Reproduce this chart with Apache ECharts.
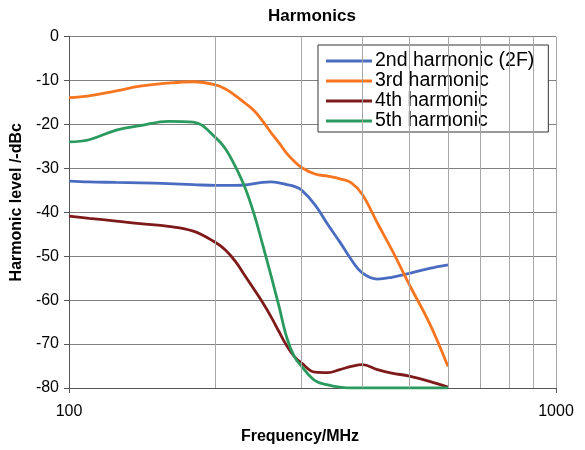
<!DOCTYPE html>
<html>
<head>
<meta charset="utf-8">
<script src="https://cdn.jsdelivr.net/npm/echarts@6/dist/echarts.min.js"></script>
<style>
html,body{margin:0;padding:0;background:#fff;}
#chart{width:585px;height:450px;}
</style>
</head>
<body>
<div id="chart"></div>
<script>
const freqs = [100, 110, 125, 140, 160, 180, 200, 210, 220, 230, 240, 250, 260, 270, 280, 290, 300, 320, 340, 360, 380, 400, 430, 460, 500, 550, 600];
const h2 = [-32.9, -33.1, -33.2, -33.3, -33.5, -33.7, -33.9, -33.9, -33.9, -33.8, -33.5, -33.2, -33.1, -33.3, -33.7, -34.1, -34.9, -38.3, -42.8, -46.8, -50.8, -53.8, -55.2, -54.8, -53.9, -52.8, -52.0];
const h3 = [-13.9, -13.5, -12.4, -11.3, -10.6, -10.3, -11.0, -12.0, -13.5, -15.2, -16.9, -19.3, -21.9, -24.2, -26.6, -28.4, -29.8, -31.3, -31.8, -32.4, -33.3, -35.9, -42.5, -48.5, -56.5, -65.3, -75.1];
const h4 = [-40.9, -41.4, -42.0, -42.6, -43.2, -44.3, -46.9, -48.7, -51.3, -54.5, -57.6, -60.6, -63.8, -67.2, -70.4, -72.8, -74.3, -76.4, -76.5, -75.8, -75.1, -74.7, -75.8, -76.6, -77.3, -78.5, -79.8];
const h5 = [-24.0, -23.5, -21.3, -20.3, -19.3, -19.5, -23.0, -25.7, -29.8, -34.5, -40.5, -47.5, -54.5, -61.5, -68.5, -72.8, -75.0, -78.3, -79.3, -79.8, -80, -80, -80, -80, -80, -80, -80];
const seriesNames = ['2nd harmonic (2F)', '3rd harmonic', '4th harmonic', '5th harmonic'];
const seriesColors = ['#4A6CC0', '#F7751F', '#7F1A1A', '#2A9A5E'];
const minorFreqs = [200, 300, 400, 500, 600, 700, 800, 900];

const FONT = '"Liberation Sans", Arial, sans-serif';
const seriesData = [h2, h3, h4, h5];

const chart = echarts.init(document.getElementById('chart'), null, {renderer: 'canvas'});
const series = [{
  name: 'grid',
  type: 'line',
  data: [],
  z: 1,
  silent: true,
  markLine: {
    silent: true,
    symbol: 'none',
    label: {show: false},
    lineStyle: {color: '#a6a6a6', width: 1, type: 'solid'},
    emphasis: {disabled: true},
    animation: false,
    data: minorFreqs.map(f => ({xAxis: f}))
  }
}];
seriesData.forEach((vals, i) => {
  series.push({
    name: seriesNames[i],
    type: 'line',
    z: 3,
    smooth: 0.4,
    showSymbol: false,
    symbol: 'none',
    lineStyle: {color: seriesColors[i], width: 2.8},
    itemStyle: {color: seriesColors[i]},
    data: freqs.map((f, j) => [f, vals[j]])
  });
});

chart.setOption({
  animation: false,
  backgroundColor: '#fff',
  title: {
    text: 'Harmonics',
    left: 268,
    top: 8,
    padding: 0,
    textStyle: {fontFamily: FONT, fontSize: 17, fontWeight: 'bold', color: '#000'}
  },
  legend: {
    data: seriesNames,
    orient: 'vertical',
    left: 318,
    top: 45,
    width: 227,
    padding: [6, 14, 1, 8],
    itemGap: 0,
    itemWidth: 46,
    itemHeight: 3,
    icon: 'rect',
    backgroundColor: '#fff',
    borderColor: '#333',
    borderWidth: 1,
    borderRadius: 0,
    textStyle: {fontFamily: FONT, fontSize: 19.5, color: '#000', lineHeight: 19, padding: [0, 0, 0, -2]}
  },
  grid: {left: 69, right: 29, top: 36.5, bottom: 62, containLabel: false},
  xAxis: {
    type: 'log',
    logBase: 10,
    min: 100,
    max: 1000,
    name: 'Frequency/MHz',
    nameLocation: 'middle',
    nameGap: 41,
    nameTextStyle: {fontFamily: FONT, fontSize: 16, fontWeight: 'bold', color: '#000', padding: [0, 25, 0, 0]},
    axisLine: {show: true, onZero: false, lineStyle: {color: '#555', width: 1}},
    axisTick: {show: true, length: 5, inside: false, lineStyle: {color: '#555'}},
    axisLabel: {fontFamily: FONT, fontSize: 16, color: '#000', margin: 16, formatter: v => String(Math.round(v))},
    splitLine: {show: true, lineStyle: {color: '#a6a6a6', width: 1}},
    minorTick: {show: false},
    minorSplitLine: {show: false}
  },
  yAxis: {
    type: 'value',
    min: -80,
    max: 0,
    interval: 10,
    name: 'Harmonic level /-dBc',
    nameLocation: 'middle',
    nameGap: 40,
    nameTextStyle: {fontFamily: FONT, fontSize: 16, fontWeight: 'bold', color: '#000', padding: [0, 0, 0, 20]},
    axisLine: {show: true, lineStyle: {color: '#555', width: 1}},
    axisTick: {show: true, length: 5, inside: false, lineStyle: {color: '#555'}},
    axisLabel: {fontFamily: FONT, fontSize: 16, color: '#000', margin: 10},
    splitLine: {show: true, lineStyle: {color: '#808080', width: 1}}
  },
  series: series
});
</script>
</body>
</html>
